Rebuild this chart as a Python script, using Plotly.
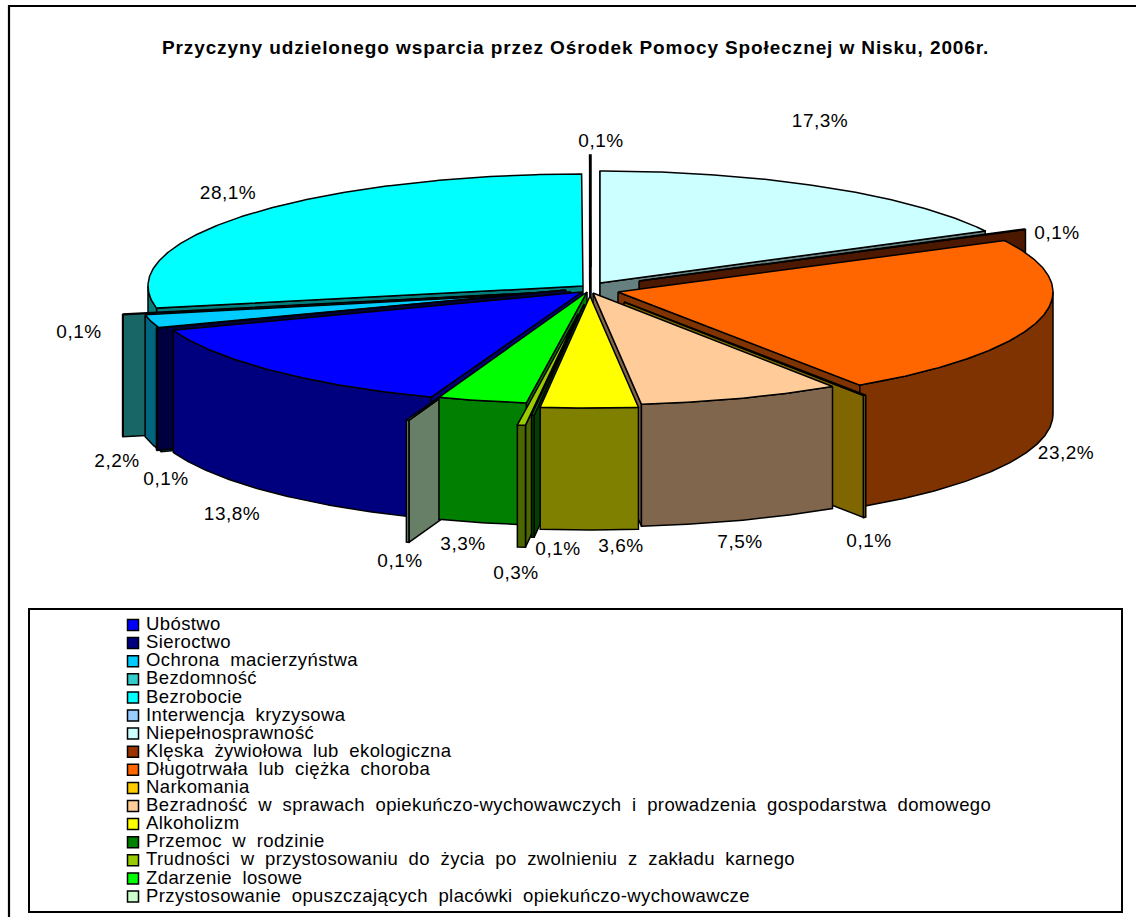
import numpy as np
import plotly.graph_objects as go

# ---- data (legend order) ----
CATEGORIES = ["Ubóstwo", "Sieroctwo", "Ochrona macierzyństwa", "Bezdomność", "Bezrobocie",
              "Interwencja kryzysowa", "Niepełnosprawność", "Klęska żywiołowa lub ekologiczna",
              "Długotrwała lub ciężka choroba", "Narkomania",
              "Bezradność w sprawach opiekuńczo-wychowawczych i prowadzenia gospodarstwa domowego",
              "Alkoholizm", "Przemoc w rodzinie",
              "Trudności w przystosowaniu do życia po zwolnieniu z zakładu karnego",
              "Zdarzenie losowe", "Przystosowanie opuszczających placówki opiekuńczo-wychowawcze"]
VALUES = [13.8, 0.1, 2.2, 0.1, 28.1, 0.05, 17.3, 0.1, 23.2, 0.1, 7.5, 3.6, 0.1, 0.3, 3.3, 0.1]
LABELS = ["13,8%", "0,1%", "2,2%", "0,1%", "28,1%", "0,1%", "17,3%", "0,1%", "23,2%", "0,1%",
          "7,5%", "3,6%", "0,1%", "0,3%", "3,3%", "0,1%"]
COLORS = ["#0000FF", "#000080", "#00CCFF", "#33CCCC", "#00FFFF", "#99CCFF", "#CCFFFF", "#993300",
          "#FF6600", "#FFCC00", "#FFCC99", "#FFFF00", "#008000", "#99CC00", "#00FF00", "#CCFFCC"]
TITLE = "Przyczyny udzielonego wsparcia przez Ośrodek Pomocy Społecznej w Nisku, 2006r."

# ---- pie geometry / styling ----
FIRST_SLICE_ANGLE = 200.26
CX, CY, RX, RY, DEPTH = 592, 288, 435, 112, 122
EXPLODE_DX = [-10, -26, -21, -43, -9, -1, 8, 47, 26, 32, 1, -2, -8, -14, -5, -35]
EXPLODE_DY = [4, 2, 4, 4, -2, -21, -5, -7, 4, 14, 5, 8, 16, 26, 4, 27]
LABEL_X = [232, 166, 117, 79, 228, 601, 820, 1057, 1066, 869, 740, 621, 558, 516, 463, 400]
LABEL_Y = [515, 480, 462, 333, 194, 142, 122, 234, 454, 542, 543, 547, 550, 574, 545, 562]
FONT = "Liberation Sans, Arial, sans-serif"


def shade(hex_color):
    r, g, b = (int(hex_color[i:i + 2], 16) for i in (1, 3, 5))
    return f"rgb({r // 2},{g // 2},{b // 2})"


def polygon(xs, ys, color):
    return go.Scatter(x=list(xs), y=list(ys), mode="lines", fill="toself", fillcolor=color,
                      line=dict(color="black", width=1.5), hoverinfo="skip", showlegend=False)


def point(angle, ox, oy):
    a = np.radians(angle)
    return CX + ox + RX * np.sin(a), CY + oy - RY * np.cos(a)


edges = FIRST_SLICE_ANGLE + np.concatenate([[0], np.cumsum(VALUES)]) / sum(VALUES) * 360
slices = []
for i in range(len(VALUES)):
    s, e = edges[i] % 360, edges[i + 1] % 360
    e = e if e > s else e + 360
    slices.append((i, s, e))
# back-to-front: both sides toward the front (180 degrees)
slices.sort(key=lambda t: abs(((t[1] + t[2]) / 2) % 360 - 180), reverse=True)

fig = go.Figure()
for i, s, e in slices:
    ox, oy = EXPLODE_DX[i], EXPLODE_DY[i]
    tip = (CX + ox, CY + oy)
    top, dark = COLORS[i], shade(COLORS[i])
    # radial cut faces that look toward the viewer
    for ang, visible in ((s, np.sin(np.radians(s)) < 0), (e, np.sin(np.radians(e)) > 0)):
        if visible:
            px, py = point(ang, ox, oy)
            fig.add_trace(polygon([tip[0], px, px, tip[0], tip[0]],
                                  [tip[1], py, py + DEPTH, tip[1] + DEPTH, tip[1]], dark))
    # outer wall, front half only
    lo, hi = max(s, 90), min(e, 270)
    if hi > lo:
        t = np.linspace(lo, hi, max(2, int((hi - lo) * 2)))
        ax, ay = point(t, ox, oy)
        fig.add_trace(polygon(np.r_[ax, ax[::-1], ax[0]], np.r_[ay, ay[::-1] + DEPTH, ay[0]], dark))
    # top face
    t = np.linspace(s, e, max(2, int((e - s) * 2)))
    ax, ay = point(t, ox, oy)
    fig.add_trace(polygon(np.r_[tip[0], ax, tip[0]], np.r_[tip[1], ay, tip[1]], top))

# data labels
fig.add_trace(go.Scatter(x=LABEL_X, y=LABEL_Y, mode="text", text=LABELS, textposition="middle center",
                         textfont=dict(family=FONT, size=19, color="black"),
                         hoverinfo="skip", showlegend=False))

# legend
rows = np.linspace(625, 896.5, len(CATEGORIES))
fig.add_trace(go.Scatter(x=[133] * len(CATEGORIES), y=rows, mode="markers",
                         marker=dict(symbol="square", size=11, color=COLORS, line=dict(color="black", width=1.5)),
                         hoverinfo="skip", showlegend=False))
fig.add_trace(go.Scatter(x=[146] * len(CATEGORIES), y=rows + 0.5, mode="text", text=CATEGORIES,
                         textposition="middle right",
                         textfont=dict(family=FONT, size=18.5, color="black"),
                         hoverinfo="skip", showlegend=False))

frame = dict(type="rect", xref="x", yref="y", layer="below")
fig.update_layout(
    width=1136, height=917, margin=dict(l=0, r=0, t=0, b=0),
    paper_bgcolor="white", plot_bgcolor="white",
    xaxis=dict(range=[0, 1136], visible=False, fixedrange=True),
    yaxis=dict(range=[917, 0], visible=False, fixedrange=True),
    shapes=[
        dict(frame, x0=9, y0=6, x1=1150, y1=930, line=dict(color="black", width=2.2)),
        dict(frame, x0=29, y0=609, x1=1122, y1=912, line=dict(color="black", width=2)),
    ],
    annotations=[dict(x=575, y=47, xref="x", yref="y", text=f"<b>{TITLE}</b>", showarrow=False,
                      font=dict(family=FONT, size=19, color="black"))],
)
POST = """
document.body.style.margin='0';document.body.style.overflow='hidden';
function spacing(){
  document.querySelectorAll('.textpoint text').forEach(function(t){
    if(parseFloat(t.style.fontSize)===18.5){t.style.letterSpacing='0.4px';t.style.wordSpacing='5px';}
    else{t.style.letterSpacing='0.5px';}
  });
  document.querySelectorAll('.annotation-text').forEach(function(t){t.style.letterSpacing='0.9px';});
}
spacing();setTimeout(spacing,100);setTimeout(spacing,500);
"""
fig.write_html("out.html", post_script=POST, config={"displayModeBar": False})
